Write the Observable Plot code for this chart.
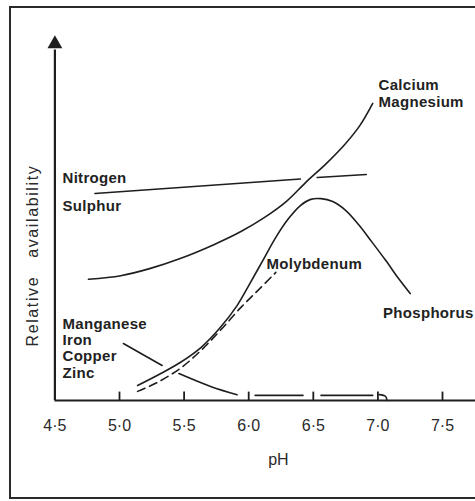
<!DOCTYPE html>
<html>
<head>
<meta charset="utf-8">
<script src="https://cdn.jsdelivr.net/npm/d3@7"></script>
<script src="https://cdn.jsdelivr.net/npm/@observablehq/plot@0.6"></script>
<style>
  html, body { margin: 0; padding: 0; background: #fff; overflow: hidden; }
  #wrap { position: relative; width: 475px; height: 501px; overflow: hidden; }
  #border { position: absolute; left: 9px; top: 6px; width: 520px; height: 493px; box-sizing: border-box; border: 2.5px solid #2a2a2a; pointer-events: none; }
  g[aria-description="curve labels"] text { letter-spacing: 0.3px; }
  g[aria-description="y title"] text { letter-spacing: 1.6px; }
</style>
</head>
<body>
<div id="wrap"><div id="border"></div></div>
<script>
// pH tick values and labels
const tickValues = [4.5, 5.0, 5.5, 6.0, 6.5, 7.0, 7.5];
const tickLabels = ["4·5", "5·0", "5·5", "6·0", "6·5", "7·0", "7·5"];

// Nitrogen / Sulphur (two segments, broken where Calcium crosses)
const nitrogenX   = [4.81, 6.40, 6.53, 6.91];
const nitrogenY   = [56.7, 60.7, 61.1, 61.9];
const nitrogenSeg = [1, 1, 2, 2];

// Calcium / Magnesium
const calciumX = [4.76, 5.01, 5.24, 5.47, 5.73, 5.94, 6.12, 6.29, 6.44, 6.60, 6.74, 6.86, 6.96];
const calciumY = [33.2, 34.2, 36.2, 38.9, 42.7, 46.3, 50.1, 54.5, 59.7, 64.9, 70.0, 75.3, 81.4];

// Phosphorus (solid bell curve)
const phosphorusX = [5.14, 5.32, 5.47, 5.63, 5.78, 5.91, 6.01, 6.11, 6.21, 6.31, 6.40, 6.48, 6.56, 6.65, 6.75, 6.85, 6.95, 7.06, 7.16, 7.25];
const phosphorusY = [4.1, 7.4, 10.4, 14.5, 20.0, 26.0, 32.1, 38.4, 44.7, 49.9, 53.4, 55.1, 55.3, 54.5, 52.1, 48.2, 43.6, 38.4, 33.4, 29.3];

// Molybdenum (dashed)
const molybdenumX = [5.14, 5.29, 5.47, 5.63, 5.78, 5.94, 6.07, 6.21];
const molybdenumY = [2.5, 4.9, 8.8, 13.7, 19.2, 25.5, 30.1, 35.1];

// Manganese / Iron / Copper / Zinc (broken segments)
const traceX   = [5.03, 5.33, 5.46, 5.71, 5.91, 6.05, 6.42, 6.56, 6.96, 7.01, 7.06, 7.07];
const traceY   = [15.6, 9.6, 7.4, 3.8, 1.6, 1.4, 1.4, 1.4, 1.4, 1.6, 1.1, 0];
const traceSeg = [1, 1, 2, 2, 2, 3, 3, 4, 4, 5, 5, 5];

// Curve labels
const labelText = ["Nitrogen", "Sulphur", "Calcium", "Magnesium", "Molybdenum", "Phosphorus", "Manganese", "Iron", "Copper", "Zinc"];
const labelX    = [4.559, 4.559, 7.005, 7.005, 6.138, 7.040, 4.559, 4.559, 4.559, 4.559];
const labelY    = [59.5, 51.8, 85.2, 80.3, 35.9, 22.7, 19.7, 15.1, 10.7, 6.3];

const xTitle = "pH";
const yTitle = "Relative\u00a0\u00a0\u00a0availability";

const toPts = (xs, ys, zs) => xs.map((x, i) => ({x, y: ys[i], z: zs ? zs[i] : 0}));
const ink = "#1e1e1e";
const font = "'Liberation Sans', Arial, Helvetica, sans-serif";

const chart = Plot.plot({
  width: 475,
  height: 501,
  marginLeft: 54,
  marginRight: 33,
  marginTop: 35,
  marginBottom: 101,
  x: {domain: [4.5, 7.5], range: [54.4, 442]},
  y: {domain: [0, 100], range: [400, 35], axis: null},
  style: {fontFamily: font, fontSize: "15px", background: "transparent", color: ink, overflow: "visible"},
  marks: [
    // axes
    Plot.ruleY([0], {x1: 4.5, x2: 7.8, stroke: ink, strokeWidth: 2.2}),
    Plot.ruleX([4.5], {y1: 0, y2: 96, stroke: ink, strokeWidth: 2.2}),
    Plot.dot([4.5], {x: d => d, y: 97.7, symbol: "triangle", r: 5.5, fill: ink, stroke: "none"}),
    Plot.ruleX(tickValues.filter(d => d > 4.5), {y1: 0, y2: 2.3, stroke: ink, strokeWidth: 1.8}),
    Plot.axisX(tickValues, {
      tickSize: 0, tickPadding: 19, fontSize: 16, fill: "#2a2a2a",
      tickFormat: d => tickLabels[tickValues.indexOf(d)], label: null
    }),
    // curves
    Plot.line(toPts(nitrogenX, nitrogenY, nitrogenSeg), {x: "x", y: "y", z: "z", stroke: ink, strokeWidth: 1.6}),
    Plot.line(toPts(calciumX, calciumY), {x: "x", y: "y", stroke: ink, strokeWidth: 1.6, curve: "catmull-rom"}),
    Plot.line(toPts(phosphorusX, phosphorusY), {x: "x", y: "y", stroke: ink, strokeWidth: 1.6, curve: "catmull-rom"}),
    Plot.line(toPts(molybdenumX, molybdenumY), {x: "x", y: "y", stroke: ink, strokeWidth: 1.6, strokeDasharray: "8,5", curve: "catmull-rom"}),
    Plot.line(toPts(traceX, traceY, traceSeg), {x: "x", y: "y", z: "z", stroke: ink, strokeWidth: 1.6, curve: "catmull-rom"}),
    // labels
    Plot.text(labelText, {
      x: (d, i) => labelX[i], y: (d, i) => labelY[i], text: d => d,
      textAnchor: "start", lineAnchor: "bottom", fontSize: 15, fontWeight: "bold", fill: "#222",
      ariaDescription: "curve labels"
    }),
    Plot.text([xTitle], {x: 6.23, y: -17.8, text: d => d, textAnchor: "middle", lineAnchor: "bottom", fontSize: 16, fill: "#2a2a2a"}),
    Plot.text([yTitle], {x: 4.327, y: 39.7, text: d => d, rotate: -90, textAnchor: "middle", lineAnchor: "middle", fontSize: 16, fill: "#2a2a2a", ariaDescription: "y title"})
  ]
});
document.getElementById("wrap").prepend(chart);
</script>
</body>
</html>
